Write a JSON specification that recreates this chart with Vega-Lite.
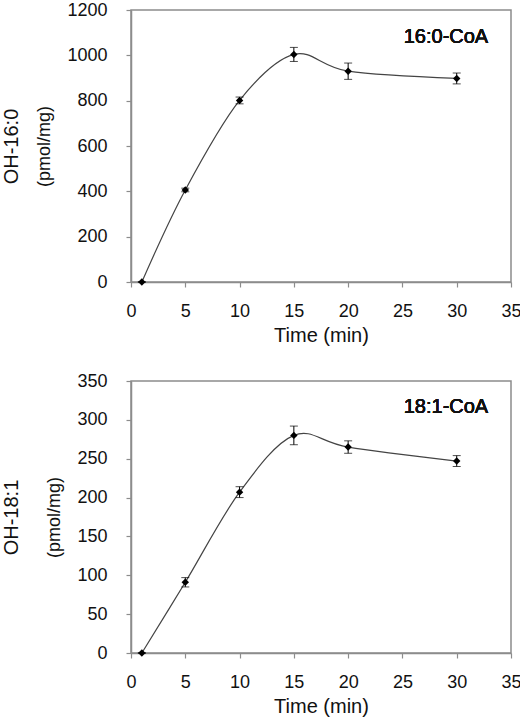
{
  "$schema": "https://vega.github.io/schema/vega-lite/v6.json",
  "padding": {"left": 0, "top": 0, "right": 0, "bottom": 0},
  "datasets": {
    "d": [
      {"panel": "A", "time": 1, "value": 0, "err": 0},
      {"panel": "A", "time": 5, "value": 406, "err": 8},
      {"panel": "A", "time": 10, "value": 801, "err": 15},
      {"panel": "A", "time": 15, "value": 1004, "err": 31},
      {"panel": "A", "time": 20, "value": 930, "err": 36},
      {"panel": "A", "time": 30, "value": 898, "err": 24},
      {"panel": "B", "time": 1, "value": 0, "err": 0},
      {"panel": "B", "time": 5, "value": 91, "err": 6},
      {"panel": "B", "time": 10, "value": 207, "err": 7},
      {"panel": "B", "time": 15, "value": 280, "err": 12},
      {"panel": "B", "time": 20, "value": 265, "err": 8},
      {"panel": "B", "time": 30, "value": 247, "err": 7}
    ]
  },
  "config": {
    "font": "Liberation Sans",
    "view": {"stroke": "#8c8c8c", "strokeWidth": 1.5},
    "axis": {
      "domainColor": "#8c8c8c", "domainWidth": 1.5, "tickColor": "#8c8c8c", "tickWidth": 1.2,
      "grid": false, "labelFontSize": 18, "labelColor": "#111", "titleFontWeight": "normal",
      "titleColor": "#111", "labelPadding": 19, "tickSize": 5, "labelFlush": false, "labelOverlap": false
    },
    "concat": {"spacing": 25}
  },
  "vconcat": [
    {
      "width": 380, "height": 272,
      "data": {"name": "d"},
      "transform": [{"filter": "datum.panel == 'A'"}],
      "encoding": {
        "x": {"field": "time", "type": "quantitative", "scale": {"domain": [0, 35], "nice": false},
          "axis": {"values": [0, 5, 10, 15, 20, 25, 30, 35], "title": "Time (min)", "titleFontSize": 20, "labelPadding": 15, "titlePadding": 5}}
      },
      "layer": [
        {"mark": {"type": "line", "interpolate": "cardinal", "color": "#444", "strokeWidth": 1.2},
          "encoding": {"y": {"field": "value", "type": "quantitative", "scale": {"domain": [0, 1200], "nice": false},
            "axis": {"orient": "left", "values": [0, 200, 400, 600, 800, 1000, 1200], "format": "d", "title": "(pmol/mg)", "titleFontSize": 18, "titlePadding": 13}}}},
        {"mark": {"type": "errorbar", "ticks": {"size": 8, "color": "black"}, "color": "black"},
          "encoding": {"y": {"field": "value", "type": "quantitative", "axis": null}, "yError": {"field": "err"}}},
        {"mark": {"type": "point", "shape": "diamond", "filled": true, "color": "black", "size": 55, "opacity": 1},
          "encoding": {"y": {"field": "value", "type": "quantitative", "axis": null}}},
        {"mark": {"type": "text", "align": "right", "baseline": "middle", "font": "Liberation Sans", "fontSize": 20, "fontWeight": 400, "color": "#111"},
          "encoding": {"x": {"datum": 32.9}, "y": {"datum": 1080, "type": "quantitative",
            "axis": {"orient": "left", "title": "OH-16:0", "titleFontSize": 20, "labels": false, "ticks": false, "domain": false, "titlePadding": 110}},
            "text": {"value": "16:0-CoA"}}}
      ],
      "resolve": {"axis": {"y": "independent"}}
    },
    {
      "width": 380, "height": 272,
      "data": {"name": "d"},
      "transform": [{"filter": "datum.panel == 'B'"}],
      "encoding": {
        "x": {"field": "time", "type": "quantitative", "scale": {"domain": [0, 35], "nice": false},
          "axis": {"values": [0, 5, 10, 15, 20, 25, 30, 35], "title": "Time (min)", "titleFontSize": 20, "labelPadding": 15, "titlePadding": 5}}
      },
      "layer": [
        {"mark": {"type": "line", "interpolate": "cardinal", "color": "#444", "strokeWidth": 1.2},
          "encoding": {"y": {"field": "value", "type": "quantitative", "scale": {"domain": [0, 350], "nice": false},
            "axis": {"orient": "left", "values": [0, 50, 100, 150, 200, 250, 300, 350], "format": "d", "title": "(pmol/mg)", "titleFontSize": 18, "titlePadding": 13}}}},
        {"mark": {"type": "errorbar", "ticks": {"size": 8, "color": "black"}, "color": "black"},
          "encoding": {"y": {"field": "value", "type": "quantitative", "axis": null}, "yError": {"field": "err"}}},
        {"mark": {"type": "point", "shape": "diamond", "filled": true, "color": "black", "size": 55, "opacity": 1},
          "encoding": {"y": {"field": "value", "type": "quantitative", "axis": null}}},
        {"mark": {"type": "text", "align": "right", "baseline": "middle", "font": "Liberation Sans", "fontSize": 20, "fontWeight": 400, "color": "#111"},
          "encoding": {"x": {"datum": 32.9}, "y": {"datum": 316, "type": "quantitative",
            "axis": {"orient": "left", "title": "OH-18:1", "titleFontSize": 20, "labels": false, "ticks": false, "domain": false, "titlePadding": 110}},
            "text": {"value": "18:1-CoA"}}}
      ],
      "resolve": {"axis": {"y": "independent"}}
    }
  ]
}
